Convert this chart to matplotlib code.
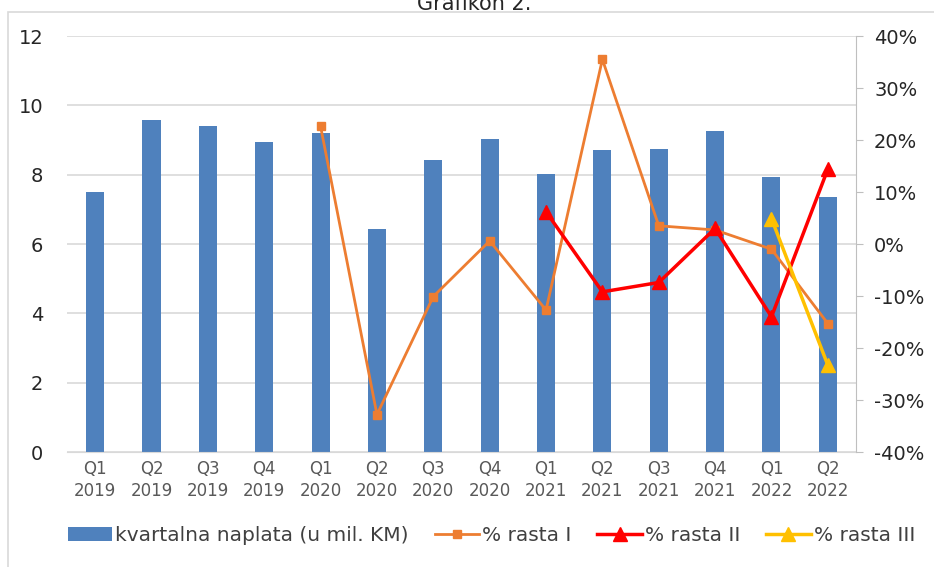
"""Quarterly collection bars with growth-rate lines on a secondary axis."""

import matplotlib.pyplot as plt
import numpy as np
from matplotlib.patches import Rectangle
from matplotlib.ticker import FuncFormatter

quarters = ["Q1\n2019", "Q2\n2019", "Q3\n2019", "Q4\n2019",
            "Q1\n2020", "Q2\n2020", "Q3\n2020", "Q4\n2020",
            "Q1\n2021", "Q2\n2021", "Q3\n2021", "Q4\n2021",
            "Q1\n2022", "Q2\n2022"]
naplata = [7.5, 9.58, 9.4, 8.94, 9.19, 6.42, 8.43, 9.03,
           8.02, 8.71, 8.75, 9.25, 7.92, 7.35]
rast_1 = [np.nan, np.nan, np.nan, np.nan, 22.6, -32.8, -10.1, 0.6,
          -12.7, 35.5, 3.5, 2.7, -1.0, -15.3]
rast_2 = [np.nan] * 8 + [6.2, -9.2, -7.4, 3.0, -14.0, 14.4]
rast_3 = [np.nan] * 12 + [4.9, -23.3]

BLUE = "#4F81BD"
ORANGE = "#ED7D31"
RED = "#FF0000"
YELLOW = "#FFC000"
GRID = "#D9D9D9"

plt.rcParams["font.family"] = "DejaVu Sans"

fig = plt.figure(figsize=(9.34, 5.67), dpi=100)
ax = fig.add_axes([0.0717, 0.2028, 0.9165 - 0.0717, 0.9365 - 0.2028])
x = np.arange(len(quarters))

bars = ax.bar(x, naplata, width=0.32, color=BLUE, zorder=2,
              label="kvartalna naplata (u mil. KM)")
ax.set_xlim(-0.5, len(quarters) - 0.5)
ax.set_ylim(0, 12)
ax.set_yticks(range(0, 13, 2))
ax.yaxis.grid(True, color=GRID, linewidth=1.2, zorder=0)
ax.set_axisbelow(True)
for side in ("left", "top", "right"):
    ax.spines[side].set_visible(False)
ax.spines["bottom"].set_color(GRID)
ax.tick_params(axis="y", length=0, pad=17, labelsize=14, labelcolor="#262626")
ax.set_xticks(x)
ax.set_xticklabels(quarters, fontsize=12, color="#595959", linespacing=1.25)
ax.tick_params(axis="x", length=0, pad=6)

ax2 = ax.twinx()
ax2.set_ylim(-40, 40)
ax2.set_yticks(range(-40, 41, 10))
ax2.yaxis.set_major_formatter(FuncFormatter(lambda v, _: f"{v:.0f}%"))
for side in ("left", "top", "bottom"):
    ax2.spines[side].set_visible(False)
ax2.spines["right"].set_color("#BFBFBF")
ax2.tick_params(axis="y", length=5, color="#BFBFBF", labelsize=14,
                labelcolor="#262626", pad=8)

l1, = ax2.plot(x, rast_1, color=ORANGE, linewidth=2, marker="s",
               markersize=6, label="% rasta I", zorder=3)
l2, = ax2.plot(x, rast_2, color=RED, linewidth=2.5, marker="^",
               markersize=10, label="% rasta II", zorder=4)
l3, = ax2.plot(x, rast_3, color=YELLOW, linewidth=2.5, marker="^",
               markersize=10, label="% rasta III", zorder=5)

leg = fig.legend([bars, l1, l2, l3],
                 [bars.get_label(), l1.get_label(), l2.get_label(), l3.get_label()],
                 loc="center", bbox_to_anchor=(0.526, 0.056), ncol=4,
                 frameon=False, fontsize=14.5, handlelength=2.2,
                 handletextpad=0.15, columnspacing=1.3)
for t in leg.get_texts():
    t.set_color("#404040")

fig.text(0.508, 0.982, "Grafikon 2.", ha="center", va="baseline",
         fontsize=15, color="#262626")
fig.patches.append(Rectangle((8 / 934, -0.1), 1.0, 1.1 - 12 / 567,
                             transform=fig.transFigure, fill=False,
                             edgecolor=GRID, linewidth=1.2))

fig.savefig("out.png", dpi=100)
